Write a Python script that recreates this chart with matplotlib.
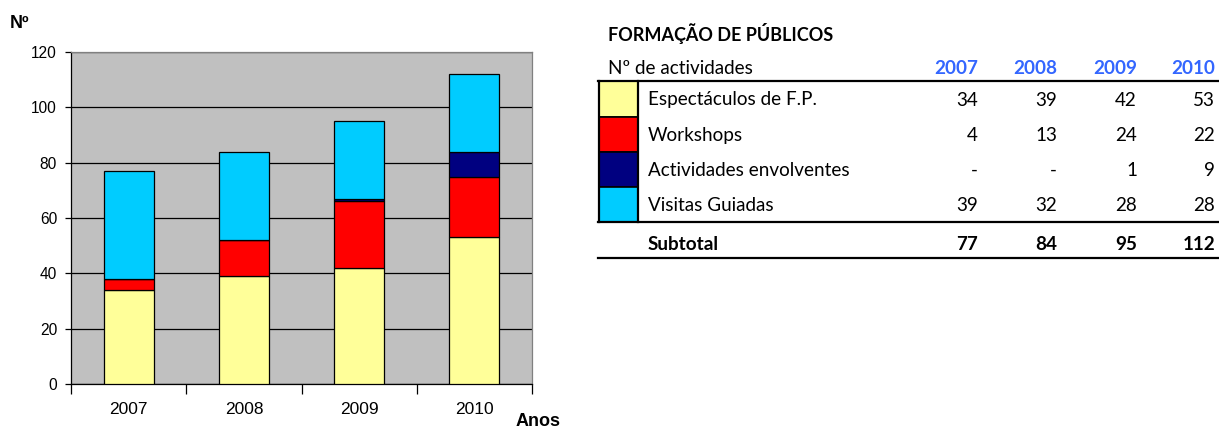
import numpy as np
import matplotlib.pyplot as plt
from matplotlib.patches import Rectangle

# data
years = ['2007', '2008', '2009', '2010']
categories = ['Espectáculos de F.P.', 'Workshops', 'Actividades envolventes', 'Visitas Guiadas']
espectaculos = [34, 39, 42, 53]
workshops = [4, 13, 24, 22]
envolventes = [0, 0, 1, 9]
visitas = [39, 32, 28, 28]
yticks = [0, 20, 40, 60, 80, 100, 120]

series = [espectaculos, workshops, envolventes, visitas]
colors = ['#FFFF99', '#FF0000', '#000080', '#00CCFF']

W, H = 1219, 432
fig = plt.figure(figsize=(W / 100, H / 100), dpi=100)

# chart
ax = fig.add_axes([71 / W, (H - 384) / H, 461 / W, 332 / H])
ax.set_facecolor('#C0C0C0')
x = np.arange(len(years))
bottom = np.zeros(len(years))
for vals, c in zip(series, colors):
    ax.bar(x, vals, 0.434, bottom=bottom, color=c, edgecolor='black', linewidth=0.9, zorder=3)
    bottom += np.array(vals)

ax.set_xlim(-0.5, len(years) - 0.5)
ax.set_ylim(0, 120)
ax.set_yticks(yticks)
ax.set_yticklabels([str(v) for v in yticks], fontsize=11.2, family='Liberation Sans')
ax.yaxis.grid(True, color='black', linewidth=0.9, zorder=1)
ax.set_axisbelow(True)
ax.set_xticks(np.arange(-0.5, len(years)), minor=False)
ax.set_xticklabels([])
ax.set_xticks(x, minor=True)
ax.set_xticklabels(years, minor=True, fontsize=12.5, family='Liberation Sans')
ax.tick_params(axis='x', which='major', length=7, width=0.9, direction='out')
ax.tick_params(axis='x', which='minor', length=0, pad=13)
ax.tick_params(axis='y', length=4, width=0.9, pad=6)
for s in ['left', 'bottom']:
    ax.spines[s].set_color('black')
    ax.spines[s].set_linewidth(0.9)
for s in ['top', 'right']:
    ax.spines[s].set_color('#808080')
    ax.spines[s].set_linewidth(0.9)

fig.text(10 / W, 1 - 23 / H, 'Nº', fontsize=13, fontweight='bold', family='Liberation Sans', va='center')
fig.text(516 / W, 1 - 422 / H, 'Anos', fontsize=13, fontweight='bold', family='Liberation Sans', va='center')

# table
tx = fig.add_axes([0, 0, 1, 1])
tx.set_xlim(0, W)
tx.set_ylim(H, 0)
tx.axis('off')
tfont = 'Lato'
fs = 13.6
tx.text(608, 34, 'FORMAÇÃO DE PÚBLICOS', fontsize=13, fontweight='bold', family=tfont, va='center')
tx.text(608, 68, 'Nº de actividades', fontsize=fs, family=tfont, va='center')
col_x = [978, 1057, 1137, 1215]
for cx, yr in zip(col_x, years):
    tx.text(cx, 68, yr, fontsize=fs, fontweight='bold', color='#3366FF', family=tfont, va='center', ha='right')

row_top = [81, 117, 152, 187]
row_bot = [117, 152, 187, 222]
for i, (name, vals, c) in enumerate(zip(categories, series, colors)):
    tx.add_patch(Rectangle((599, row_top[i]), 39, row_bot[i] - row_top[i], facecolor=c, edgecolor='black', linewidth=1.2))
    yc = (row_top[i] + row_bot[i]) / 2 + 1
    tx.text(648, yc, name, fontsize=fs, family=tfont, va='center')
    for cx, v in zip(col_x, vals):
        tx.text(cx, yc, str(v) if v else '-', fontsize=fs, family=tfont, va='center', ha='right')

totals = [sum(v) for v in zip(*series)]
tx.text(648, 245, 'Subtotal', fontsize=fs, fontweight='bold', family=tfont, va='center')
for cx, t in zip(col_x, totals):
    tx.text(cx, 245, str(t), fontsize=fs, fontweight='bold', family=tfont, va='center', ha='right')

tx.plot([598, W], [81, 81], color='black', linewidth=1.6)
tx.plot([598, W], [222, 222], color='black', linewidth=1.6)
tx.plot([598, W], [258, 258], color='black', linewidth=1.6)
tx.plot([599, 599], [81, 222], color='black', linewidth=1.6)
tx.plot([638, 638], [81, 222], color='black', linewidth=1.6)

fig.savefig('out.png', dpi=100)
